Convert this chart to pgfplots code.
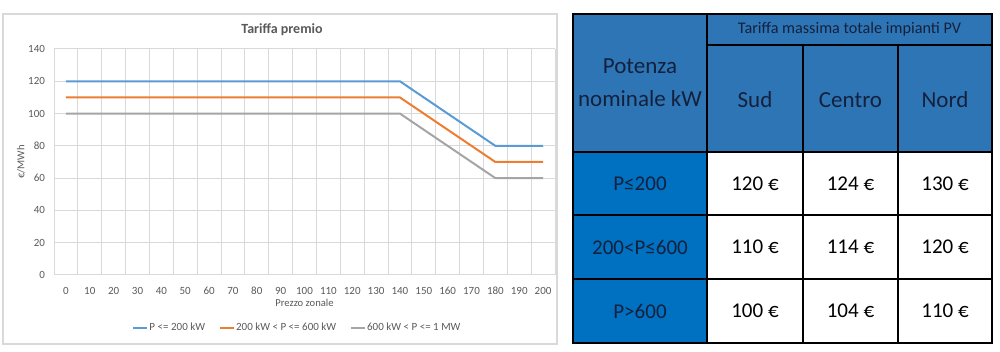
\documentclass[border=0pt]{standalone}
\usepackage{pgfplots}
\pgfplotsset{compat=1.18}
\usepackage{fontspec}
\setmainfont{Carlito}
\definecolor{sblue}{HTML}{5B9BD5}
\definecolor{sorange}{HTML}{ED7D31}
\definecolor{sgray}{HTML}{A5A5A5}
\definecolor{gridgray}{HTML}{D9D9D9}
\definecolor{txtgray}{HTML}{595959}
\definecolor{hdr}{HTML}{2E75B6}
\definecolor{lcol}{HTML}{0070C0}
\definecolor{navy}{HTML}{14213D}
\begin{document}
\begin{tikzpicture}
\path[use as bounding box] (0pt,0pt) rectangle (500pt,176pt);
\draw[gridgray, line width=0.6pt] (1.5pt,4pt) rectangle (278.5pt,169pt);
\node[font=\fontsize{7}{8}\selectfont\bfseries, text=txtgray] at (141pt,161pt) {Tariffa premio};
\begin{axis}[
  at={(27pt,38.5pt)}, anchor=south west,
  scale only axis, width=250.5pt, height=113pt,
  xmin=-5, xmax=205, ymin=0, ymax=140,
  xtick={0,10,...,200}, ytick={0,20,...,140},
  minor xtick={-5,5,...,205},
  xminorgrids, ymajorgrids,
  grid style={draw=gridgray, line width=0.5pt},
  minor grid style={draw=gridgray, line width=0.5pt},
  axis line style={draw=none},
  major tick length=0pt, minor tick length=0pt,
  tick style={draw=none},
  ticklabel style={font=\fontsize{5.5}{6.5}\selectfont, text=txtgray},
  xticklabel style={yshift=-2.5pt},
  yticklabel style={xshift=-1pt},
  /pgf/number format/assume math mode=true,
  xlabel={Prezzo zonale}, ylabel={€/MWh},
  label style={font=\fontsize{5.3}{6.3}\selectfont, text=txtgray},
  xlabel style={at={(axis description cs:0.5,-0.124)}, anchor=center},
  ylabel style={at={(axis description cs:-0.066,0.5)}, anchor=center},
  legend columns=3,
  legend style={at={(axis description cs:0.485,-0.2345)}, anchor=center, draw=none, fill=none,
    font=\fontsize{5.5}{6.5}\selectfont, text=txtgray,
    /tikz/every even column/.append style={column sep=6.5pt},
    /tikz/every odd column/.append style={column sep=0pt},
    nodes={inner sep=0.5pt},
    inner sep=0pt, row sep=0pt},
  legend image code/.code={\draw[#1] (0pt,0pt) -- (7pt,0pt);},
  legend cell align=left,
]
\addplot[sblue, line width=1pt] coordinates {(0,120) (140,120) (180,80) (200,80)};
\addlegendentry{P <= 200 kW}
\addplot[sorange, line width=1pt] coordinates {(0,110) (140,110) (180,70) (200,70)};
\addlegendentry{200 kW < P <= 600 kW}
\addplot[sgray, line width=1pt] coordinates {(0,100) (140,100) (180,60) (200,60)};
\addlegendentry{600 kW < P <= 1 MW}
\end{axis}
% table
\fill[hdr] (286.5pt,100pt) rectangle (496pt,169pt);
\fill[lcol] (286.5pt,4.5pt) rectangle (353.5pt,100pt);
\draw[black, line width=0.8pt] (353.5pt,153.5pt) -- (496pt,153.5pt);
\draw[black, line width=0.8pt] (286.5pt,100pt) -- (496pt,100pt);
\draw[black, line width=0.8pt] (286.5pt,68.5pt) -- (496pt,68.5pt);
\draw[black, line width=0.8pt] (286.5pt,36.5pt) -- (496pt,36.5pt);
\draw[black, line width=0.8pt] (401.5pt,4.5pt) -- (401.5pt,153.5pt);
\draw[black, line width=0.8pt] (449pt,4.5pt) -- (449pt,153.5pt);
\draw[black, line width=1.4pt] (353.5pt,4.5pt) -- (353.5pt,169pt);
\draw[black, line width=1.3pt] (286.5pt,4.5pt) rectangle (496pt,169pt);
\node[font=\fontsize{8.1}{9.5}\selectfont, text=navy] at (424.75pt,161.25pt) {Tariffa massima totale impianti PV};
\node[font=\fontsize{11.5}{16.5}\selectfont, text=navy, align=center] at (320pt,134.5pt) {Potenza\\nominale kW};
\node[font=\fontsize{11.5}{14}\selectfont, text=navy] at (377.5pt,126pt) {Sud};
\node[font=\fontsize{11.5}{14}\selectfont, text=navy] at (425.25pt,126pt) {Centro};
\node[font=\fontsize{11.5}{14}\selectfont, text=navy] at (472.5pt,126pt) {Nord};
\begin{scope}[every node/.style={font=\fontsize{10.5}{12}\selectfont}]
\node[text=navy] at (320pt,84.25pt) {P≤200};
\node[text=navy] at (320pt,52.5pt) {200<P≤600};
\node[text=navy] at (320pt,20.5pt) {P>600};
\node at (377.5pt,84.25pt) {120 €};
\node at (425.25pt,84.25pt) {124 €};
\node at (472.5pt,84.25pt) {130 €};
\node at (377.5pt,52.5pt) {110 €};
\node at (425.25pt,52.5pt) {114 €};
\node at (472.5pt,52.5pt) {120 €};
\node at (377.5pt,20.5pt) {100 €};
\node at (425.25pt,20.5pt) {104 €};
\node at (472.5pt,20.5pt) {110 €};
\end{scope}
\end{tikzpicture}
\end{document}
